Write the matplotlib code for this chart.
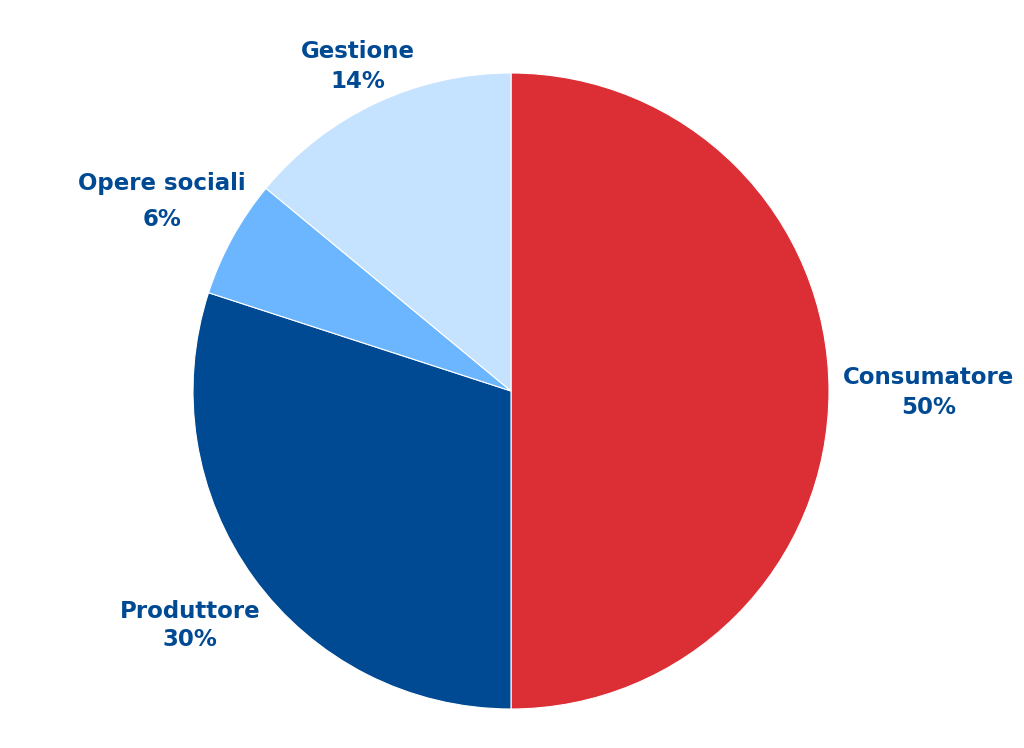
import matplotlib
matplotlib.use("Agg")
import matplotlib.pyplot as plt

categories = ["Consumatore", "Produttore", "Opere sociali", "Gestione"]
values = [50, 30, 6, 14]
colors = ["#DC2E35", "#004A94", "#6BB6FF", "#C5E2FF"]
label_pos = [(929, 392), (190, 626), (162, 201), (358, 66)]
line_gap = [30, 28, 36, 30]

fig = plt.figure(figsize=(10.24, 7.48), dpi=100)
ax = fig.add_axes([0, 0, 1, 1])

ax.pie(values, colors=colors, startangle=90, counterclock=False,
       center=(511, 748 - 391), radius=318,
       wedgeprops=dict(edgecolor="white", linewidth=0.8))
ax.set_xlim(0, 1024)
ax.set_ylim(0, 748)
ax.set_aspect("equal")
ax.axis("off")

txtcolor = "#004A94"
for cat, v, (x, y), g in zip(categories, values, label_pos, line_gap):
    yy = 748 - y
    ax.text(x, yy + g / 2, cat, ha="center", va="center", fontsize=16.5,
            fontweight="bold", color=txtcolor, family="DejaVu Sans")
    ax.text(x, yy - g / 2, f"{v}%", ha="center", va="center", fontsize=16.5,
            fontweight="bold", color=txtcolor, family="DejaVu Sans")

fig.savefig("out.png", dpi=100)
